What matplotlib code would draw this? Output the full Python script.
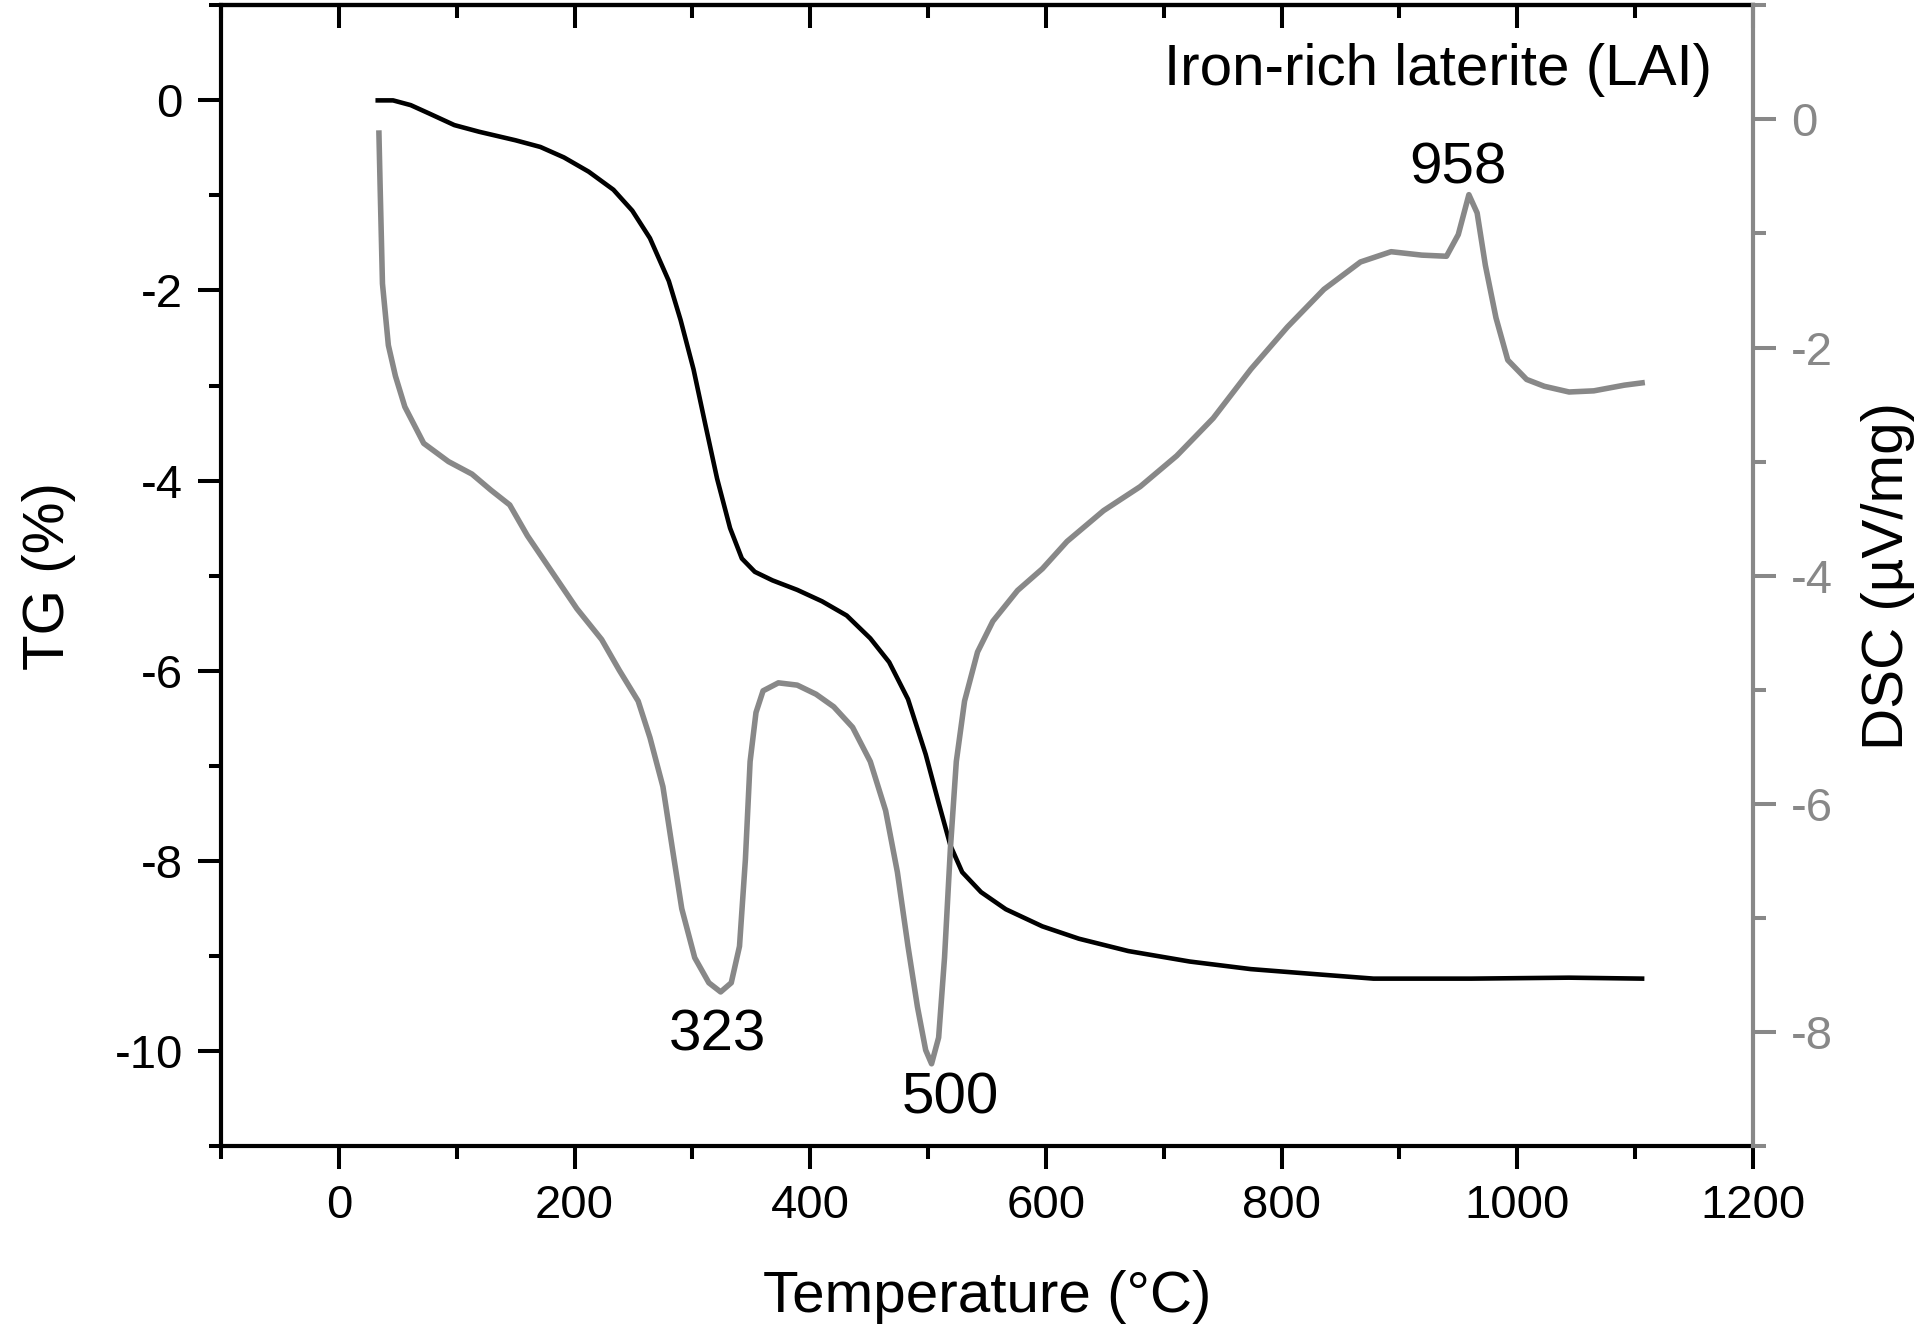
import matplotlib
matplotlib.use("Agg")
import matplotlib.pyplot as plt
from matplotlib.ticker import MultipleLocator

plt.rcParams["font.family"] = ["Liberation Sans", "DejaVu Sans"]
plt.rcParams["axes.unicode_minus"] = False

GREY = "#888888"

# TG curve (black, left axis)
tg_temp = [33, 46, 61, 77, 98, 119, 150, 171, 191, 212, 233, 249, 264, 280, 290,
           301, 311, 321, 332, 342, 353, 368, 389, 410, 431, 451, 467, 483, 498,
           509, 519, 529, 545, 566, 597, 628, 670, 722, 774, 836, 878, 961, 1044, 1106]
tg_val = [0.00, 0.00, -0.05, -0.14, -0.26, -0.33, -0.42, -0.49, -0.60, -0.75, -0.94,
          -1.16, -1.45, -1.90, -2.31, -2.83, -3.41, -3.98, -4.50, -4.82, -4.96, -5.05,
          -5.15, -5.27, -5.42, -5.66, -5.91, -6.30, -6.88, -7.39, -7.84, -8.12, -8.33,
          -8.51, -8.69, -8.82, -8.95, -9.06, -9.14, -9.20, -9.24, -9.24, -9.23, -9.24]

# DSC curve (grey, right axis)
dsc_temp = [34, 35, 37, 42, 48, 56, 72, 93, 113, 129, 145, 160, 181, 202, 223, 238,
            254, 264, 275, 283, 291, 302, 314, 324, 333, 340, 345, 349, 354, 360, 373,
            389, 405, 420, 436, 451, 464, 474, 483, 491, 498, 503, 509, 514, 519, 524,
            531, 542, 555, 576, 597, 618, 649, 680, 711, 742, 774, 805, 836, 867, 893,
            919, 940, 950, 959, 966, 973, 982, 992, 1008, 1023, 1044, 1065, 1091, 1106]
dsc_val = [-0.12, -0.58, -1.44, -1.98, -2.25, -2.52, -2.84, -3.00, -3.11, -3.25, -3.38,
           -3.65, -3.97, -4.29, -4.56, -4.83, -5.10, -5.42, -5.85, -6.39, -6.92, -7.35,
           -7.57, -7.65, -7.57, -7.25, -6.49, -5.63, -5.20, -5.01, -4.94, -4.96, -5.04,
           -5.15, -5.33, -5.63, -6.06, -6.60, -7.25, -7.78, -8.16, -8.28, -8.05, -7.35,
           -6.39, -5.63, -5.10, -4.67, -4.40, -4.13, -3.94, -3.70, -3.43, -3.22, -2.95,
           -2.62, -2.19, -1.82, -1.49, -1.25, -1.16, -1.19, -1.20, -1.01, -0.66, -0.82,
           -1.28, -1.74, -2.11, -2.28, -2.34, -2.39, -2.38, -2.33, -2.31]

peak_labels = ["323", "500", "958"]
peak_x = [321, 519, 950]
peak_y = [-8.16, -8.72, -0.56]

fig = plt.figure(figsize=(19.22, 13.34), dpi=100)
ax = fig.add_axes([0.115, 0.141, 0.797, 0.855])
ax2 = ax.twinx()

ax.plot(tg_temp, tg_val, color="black", lw=3.3)
ax2.plot(dsc_temp, dsc_val, color=GREY, lw=4.0)

ax.set_xlim(-100, 1200)
ax.set_ylim(-11, 1)
ax2.set_ylim(-9, 1)

ax.xaxis.set_major_locator(MultipleLocator(200))
ax.xaxis.set_minor_locator(MultipleLocator(100))
ax.yaxis.set_major_locator(MultipleLocator(2))
ax.yaxis.set_minor_locator(MultipleLocator(1))
ax2.yaxis.set_major_locator(MultipleLocator(2))
ax2.yaxis.set_minor_locator(MultipleLocator(1))

for s in ax.spines.values():
    s.set_linewidth(3.0)
ax.spines["right"].set_visible(False)
for name in ["left", "top", "bottom"]:
    ax2.spines[name].set_visible(False)
ax2.spines["right"].set_color(GREY)
ax2.spines["right"].set_linewidth(3.0)

ax.tick_params(which="major", length=16.5, width=2.9, labelsize=34, pad=11)
ax.tick_params(which="minor", length=9, width=2.9)
ax2.tick_params(which="major", length=16.5, width=2.9, labelsize=34, pad=11,
                color=GREY, labelcolor=GREY)
ax2.tick_params(which="minor", length=9, width=2.9, color=GREY)

# inward ticks on the top edge, no labels
top = ax.secondary_xaxis("top")
top.xaxis.set_major_locator(MultipleLocator(200))
top.xaxis.set_minor_locator(MultipleLocator(100))
top.tick_params(which="major", direction="in", length=16.5, width=2.9, labeltop=False)
top.tick_params(which="minor", direction="in", length=9, width=2.9)
top.spines["top"].set_linewidth(3.0)

ax.set_xlabel("Temperature (°C)", fontsize=42, labelpad=30)
ax.set_ylabel("TG (%)", fontsize=42, labelpad=28)
ax2.set_ylabel("DSC (µV/mg)", fontsize=42, labelpad=20)

ax.text(0.973, 0.967, "Iron-rich laterite (LAI)", transform=ax.transAxes,
        ha="right", va="top", fontsize=42)
for lab, x, y in zip(peak_labels, peak_x, peak_y):
    ax2.text(x, y, lab, ha="center", va="baseline", fontsize=42)

fig.savefig("out.png", dpi=100)
